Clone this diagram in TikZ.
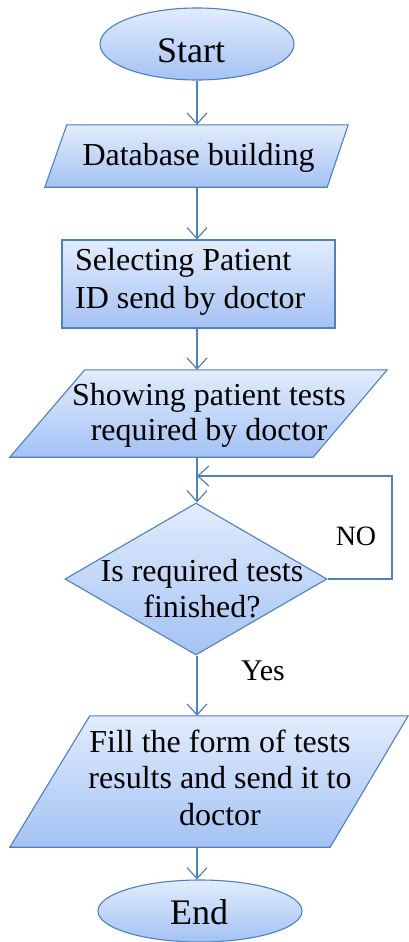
\documentclass[tikz,border=0pt]{standalone}
\usepackage{fontspec}
\newfontfamily\diagfont{Liberation Serif}
\usetikzlibrary{shapes.geometric,arrows.meta,calc}

\definecolor{edgeblue}{RGB}{79,129,189}
\definecolor{filltop}{RGB}{226,236,252}
\definecolor{fillbot}{RGB}{164,194,244}
\definecolor{shadowgray}{RGB}{196,198,202}

\tikzset{
  x=1pt, y=-1pt,
  shapefill/.style={draw=edgeblue, line width=1.1pt,
    top color=filltop, bottom color=fillbot,
    preaction={draw=none, fill=shadowgray, xshift=1pt, yshift=-3pt}},
  holder/.style={draw=none, inner sep=0pt, rectangle},
  txt/.style={inner sep=0pt, text=black},
  conn/.style={draw=edgeblue, line width=1.2pt,
    -{Straight Barb[length=11pt,width=20pt,line width=1.2pt]}},
}

\begin{document}
\begin{tikzpicture}
\useasboundingbox (0,0) rectangle (409,942);

% terminals
\node[shapefill, ellipse, minimum width=194pt, minimum height=72pt, inner sep=0pt] (start) at (197,44) {};
\node[shapefill, ellipse, minimum width=204pt, minimum height=62pt, inner sep=0pt] (end) at (200,911) {};

% input/output boxes (bounding frames; outlines drawn below)
\node[holder, minimum width=303pt, minimum height=62pt] (db) at (196.5,156) {};
\node[holder, minimum width=377pt, minimum height=87pt] (show) at (198.5,413.5) {};
\node[holder, minimum width=398pt, minimum height=131pt] (fill) at (209,781.5) {};

\path[shapefill] ($(db.north west)+(22,0)$) -- (db.north east)
  -- ($(db.south east)+(-21,0)$) -- (db.south west) -- cycle;
\path[shapefill] ($(show.north west)+(75,0)$) -- (show.north east)
  -- ($(show.south east)+(-74,0)$) -- (show.south west) -- cycle;
\path[shapefill] ($(fill.north west)+(80,0)$) -- (fill.north east)
  -- ($(fill.south east)+(-78,0)$) -- (fill.south west) -- cycle;

% process and decision
\node[shapefill, rectangle, minimum width=273pt, minimum height=88pt, inner sep=0pt] (sel) at (198.5,284) {};
\node[shapefill, diamond, minimum width=262pt, minimum height=152pt, inner sep=0pt] (dec) at (196,579) {};

% texts
\node[txt, font=\diagfont\fontsize{36}{40}\selectfont, anchor=base] (startt) at (191,63) {Start};
\node[txt, font=\diagfont\fontsize{36}{40}\selectfont, anchor=base] (endt) at (199,924) {End};
\node[txt, font=\diagfont\fontsize{32}{38}\selectfont, anchor=base] (dbt) at (198.5,165) {Database building};
\node[txt, font=\diagfont\fontsize{32}{38}\selectfont, anchor=west, align=left] (selt) at (75,281.5) {Selecting Patient\\ID send by doctor};
\node[txt, font=\diagfont\fontsize{32}{35}\selectfont, align=center] (showt) at (209,415) {Showing patient tests\\required by doctor};
\node[txt, font=\diagfont\fontsize{32}{36}\selectfont, align=center] (dect) at (202,589) {Is required tests\\finished?};
\node[txt, font=\diagfont\fontsize{32}{36.5}\selectfont, align=center] (fillt) at (220,777.5) {Fill the form of tests\\results and send it to\\doctor};
\node[txt, font=\diagfont\fontsize{28}{32}\selectfont, anchor=base] (no) at (356,545) {NO};
\node[txt, font=\diagfont\fontsize{30}{34}\selectfont, anchor=base] (yes) at (263,680) {Yes};

% connectors
\coordinate (axis) at (197,0);
\coordinate (join) at (197,476);
\coordinate (loopx) at (392,0);
\draw[conn] (start.south -| axis) -- (db.north -| axis);
\draw[conn] (db.south -| axis) -- (sel.north -| axis);
\draw[conn] (sel.south -| axis) -- (show.north -| axis);
\draw[conn] (show.south -| axis) -- (dec.north -| axis);
\draw[conn] (dec.east) -- (dec.east -| loopx) -- (join -| loopx) -- (join);
\draw[conn] (dec.south -| axis) -- (fill.north -| axis);
\draw[conn] (fill.south -| axis) -- (end.north -| axis);
\end{tikzpicture}
\end{document}
